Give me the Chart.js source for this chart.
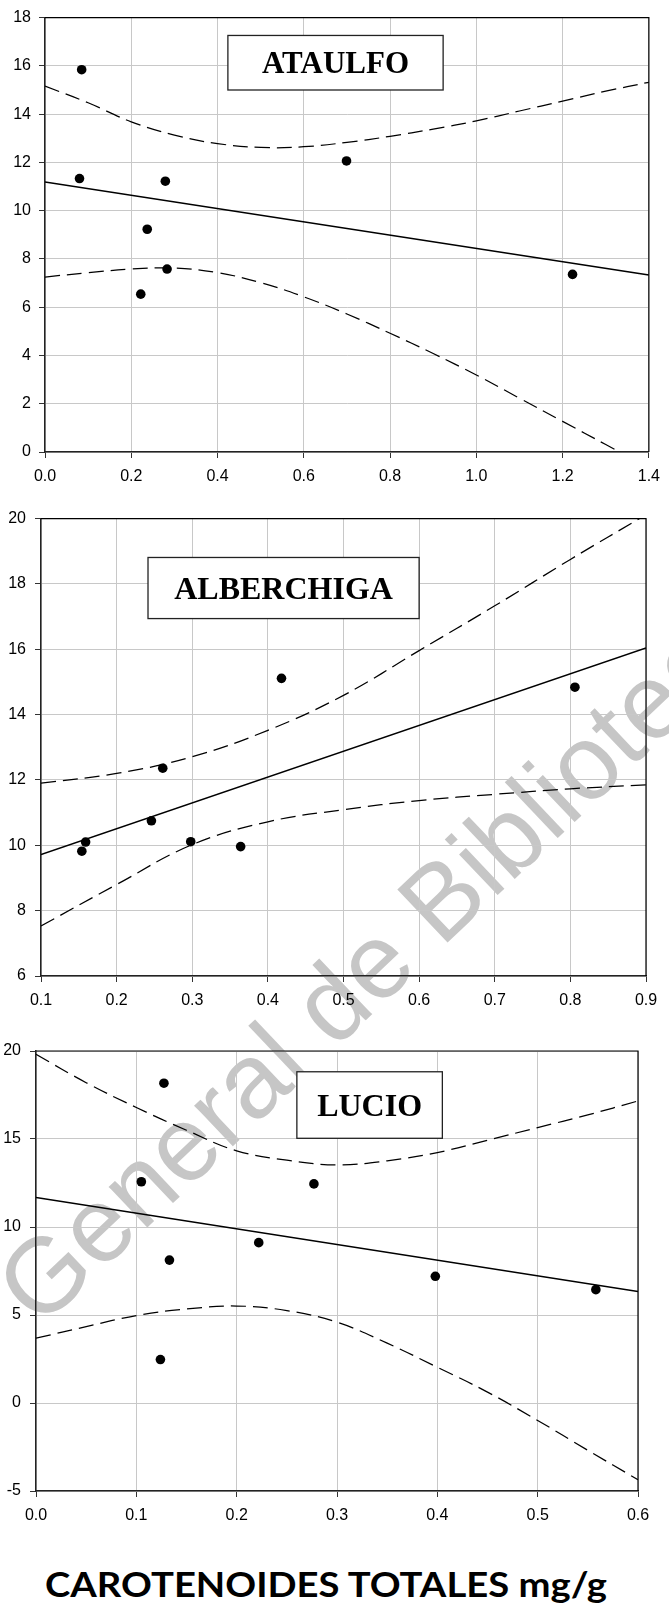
<!DOCTYPE html>
<html>
<head>
<meta charset="utf-8">
<script src="https://cdn.jsdelivr.net/npm/chart.js@4.4.1/dist/chart.umd.min.js"></script>
<style>
  html, body { margin: 0; padding: 0; background: #fff; }
  body { width: 669px; height: 1613px; position: relative; overflow: hidden; }
  canvas { position: absolute; left: 0; z-index: 1; }
  #c1 { top: 0; }
  #c2 { top: 500px; }
  #c3 { top: 1030px; }
  #watermark {
    position: absolute; left: 14px; top: 1250px; z-index: 0;
    font: 106px 'Liberation Sans', Arial, sans-serif; line-height: 1;
    color: #c6c6c6; white-space: nowrap;
    transform-origin: 0 50%; transform: rotate(-43.5deg);
  }
  #title {
    position: absolute; left: 45px; top: 1566px; z-index: 2;
    font: bold 35px 'Lato', sans-serif; line-height: 1; color: #000;
    white-space: nowrap; transform-origin: 0 0;
  }
</style>
</head>
<body>
<div id="watermark">General de Biblioteca</div>
<canvas id="c1" width="669" height="500"></canvas>
<canvas id="c2" width="669" height="530"></canvas>
<canvas id="c3" width="669" height="500"></canvas>
<div id="title">CAROTENOIDES TOTALES mg/g</div>

<script>
// ATAULFO
const ataulfoCarot = [0.085, 0.080, 0.279, 0.237, 0.283, 0.222, 0.699, 1.223];
const ataulfoValor = [15.84, 11.33, 11.22, 9.23, 7.58, 6.54, 12.06, 7.36];
const ataulfoFitX = [0, 1.4];
const ataulfoFitY = [11.19, 7.33];
const ataulfoBandX = [0, 0.1, 0.2, 0.3, 0.4, 0.5, 0.6, 0.7, 0.8, 0.9, 1.0, 1.1, 1.2, 1.3, 1.4];
const ataulfoUpper = [15.16, 14.47, 13.68, 13.13, 12.78, 12.62, 12.65, 12.83, 13.08, 13.38, 13.72, 14.13, 14.54, 14.95, 15.32];
const ataulfoLower = [7.25, 7.43, 7.58, 7.62, 7.43, 7.02, 6.43, 5.72, 4.92, 4.08, 3.19, 2.23, 1.27, 0.31, -0.64];
const ataulfoXTicks = [0, 0.2, 0.4, 0.6, 0.8, 1.0, 1.2, 1.4];
const ataulfoYTicks = [0, 2, 4, 6, 8, 10, 12, 14, 16, 18];

// ALBERCHIGA
const alberCarot = [0.154, 0.159, 0.246, 0.261, 0.298, 0.364, 0.418, 0.806];
const alberValor = [9.82, 10.10, 10.75, 12.36, 10.11, 9.96, 15.11, 14.84];
const alberFitX = [0.1, 0.9];
const alberFitY = [9.72, 16.04];
const alberBandX = [0.1, 0.2, 0.3, 0.4, 0.5, 0.6, 0.7, 0.8, 0.9];
const alberUpper = [11.90, 12.20, 12.71, 13.52, 14.59, 15.96, 17.33, 18.75, 20.12];
const alberLower = [7.53, 8.80, 10.02, 10.72, 11.09, 11.37, 11.56, 11.73, 11.85];
const alberXTicks = [0.1, 0.2, 0.3, 0.4, 0.5, 0.6, 0.7, 0.8, 0.9];
const alberYTicks = [6, 8, 10, 12, 14, 16, 18, 20];

// LUCIO
const lucioCarot = [0.1275, 0.105, 0.277, 0.133, 0.222, 0.398, 0.558, 0.124];
const lucioValor = [18.17, 12.57, 12.45, 8.12, 9.11, 7.20, 6.44, 2.47];
const lucioFitX = [0, 0.6];
const lucioFitY = [11.68, 6.33];
const lucioBandX = [0, 0.05, 0.1, 0.15, 0.2, 0.25, 0.3, 0.35, 0.4, 0.45, 0.5, 0.55, 0.6];
const lucioUpper = [19.81, 18.20, 16.79, 15.50, 14.33, 13.80, 13.53, 13.76, 14.23, 14.93, 15.65, 16.37, 17.16];
const lucioLower = [3.68, 4.34, 4.97, 5.34, 5.51, 5.25, 4.59, 3.40, 2.03, 0.62, -0.99, -2.69, -4.36];
const lucioXTicks = [0, 0.1, 0.2, 0.3, 0.4, 0.5, 0.6];
const lucioYTicks = [-5, 0, 5, 10, 15, 20];

Chart.defaults.font.family = "'Liberation Sans', Arial, sans-serif";
Chart.defaults.font.size = 16;
Chart.defaults.color = '#000';

function pts(xs, ys) {
    return xs.map((x, i) => ({ x: x, y: ys[i] }));
}

// black top and right border of the plot
const framePlugin = {
    id: 'frame',
    beforeDatasetsDraw(chart) {
        const { ctx, chartArea: a } = chart;
        ctx.save();
        ctx.strokeStyle = '#000';
        ctx.lineWidth = 1.2;
        ctx.beginPath();
        ctx.moveTo(a.left, a.top);
        ctx.lineTo(a.right, a.top);
        ctx.lineTo(a.right, a.bottom);
        ctx.stroke();
        ctx.restore();
    }
};

// the boxed variety name
const nameBoxPlugin = {
    id: 'nameBox',
    afterDatasetsDraw(chart, args, opts) {
        const { ctx, scales: { x, y } } = chart;
        const l = x.getPixelForValue(opts.x0), r = x.getPixelForValue(opts.x1);
        const t = y.getPixelForValue(opts.y1), b = y.getPixelForValue(opts.y0);
        ctx.save();
        ctx.fillStyle = '#fff';
        ctx.fillRect(l, t, r - l, b - t);
        ctx.strokeStyle = '#222';
        ctx.lineWidth = 1.3;
        ctx.strokeRect(l, t, r - l, b - t);
        ctx.fillStyle = '#000';
        ctx.font = 'bold ' + opts.size + "px 'Liberation Serif', 'Times New Roman', serif";
        ctx.textAlign = 'center';
        ctx.textBaseline = 'alphabetic';
        ctx.fillText(opts.text, (l + r) / 2, (t + b) / 2 + opts.size * 0.331);
        ctx.restore();
    }
};

function makeChart(id, d) {
    const dash = {
        type: 'line', borderColor: '#000', borderWidth: 1.25, borderDash: [15, 7],
        pointRadius: 0, tension: 0.4, fill: false
    };
    new Chart(document.getElementById(id), {
        type: 'scatter',
        data: {
            datasets: [
                Object.assign({ data: pts(d.bandX, d.upper) }, dash),
                Object.assign({ data: pts(d.bandX, d.lower) }, dash),
                {
                    type: 'line', data: pts(d.fitX, d.fitY), borderColor: '#000',
                    borderWidth: 1.5, pointRadius: 0, fill: false
                },
                {
                    data: pts(d.x, d.y), backgroundColor: '#000', borderWidth: 0,
                    pointRadius: 4.8, pointHoverRadius: 4.8
                }
            ]
        },
        options: {
            responsive: false,
            animation: false,
            events: [],
            layout: { padding: { top: d.top, right: d.right, left: 0, bottom: 0 } },
            plugins: {
                legend: { display: false },
                tooltip: { enabled: false },
                nameBox: d.box
            },
            scales: {
                x: {
                    type: 'linear', min: d.xTicks[0], max: d.xTicks[d.xTicks.length - 1],
                    afterBuildTicks: s => { s.ticks = d.xTicks.map(v => ({ value: v })); },
                    afterFit: s => { s.height = d.xAxisH; },
                    ticks: { autoSkip: false, maxRotation: 0, padding: 9, callback: v => v.toFixed(1) },
                    grid: { color: '#c8c8c8', tickColor: '#333', tickLength: 6 },
                    border: { color: '#222', width: 1.5 }
                },
                y: {
                    type: 'linear', min: d.yTicks[0], max: d.yTicks[d.yTicks.length - 1],
                    afterBuildTicks: s => { s.ticks = d.yTicks.map(v => ({ value: v })); },
                    afterFit: s => { s.width = d.yAxisW; },
                    ticks: { autoSkip: false, padding: d.yPad, callback: v => String(v) },
                    grid: { color: '#c8c8c8', tickColor: '#333', tickLength: 6 },
                    border: { color: '#222', width: 1.5 }
                }
            }
        },
        plugins: [framePlugin, nameBoxPlugin]
    });
}

makeChart('c1', {
    x: ataulfoCarot, y: ataulfoValor, fitX: ataulfoFitX, fitY: ataulfoFitY,
    bandX: ataulfoBandX, upper: ataulfoUpper, lower: ataulfoLower,
    xTicks: ataulfoXTicks, yTicks: ataulfoYTicks,
    top: 14, right: 13, yAxisW: 45, xAxisH: 48, yPad: 8,
    box: { text: 'ATAULFO', size: 31, x0: 0.424, x1: 0.923, y0: 15.0, y1: 17.26 }
});

makeChart('c2', {
    x: alberCarot, y: alberValor, fitX: alberFitX, fitY: alberFitY,
    bandX: alberBandX, upper: alberUpper, lower: alberLower,
    xTicks: alberXTicks, yTicks: alberYTicks,
    top: 16, right: 23, yAxisW: 41, xAxisH: 54, yPad: 9,
    box: { text: 'ALBERCHIGA', size: 32, x0: 0.2415, x1: 0.600, y0: 16.94, y1: 18.81 }
});

makeChart('c3', {
    x: lucioCarot, y: lucioValor, fitX: lucioFitX, fitY: lucioFitY,
    bandX: lucioBandX, upper: lucioUpper, lower: lucioLower,
    xTicks: lucioXTicks, yTicks: lucioYTicks,
    top: 21, right: 31, yAxisW: 36, xAxisH: 39, yPad: 9,
    box: { text: 'LUCIO', size: 32, x0: 0.26, x1: 0.405, y0: 15.04, y1: 18.82 }
});

// stretch the bottom caption to the width it has in the original
const title = document.getElementById('title');
title.style.transform = 'scaleX(' + (562 / title.getBoundingClientRect().width) + ')';
</script>
</body>
</html>
